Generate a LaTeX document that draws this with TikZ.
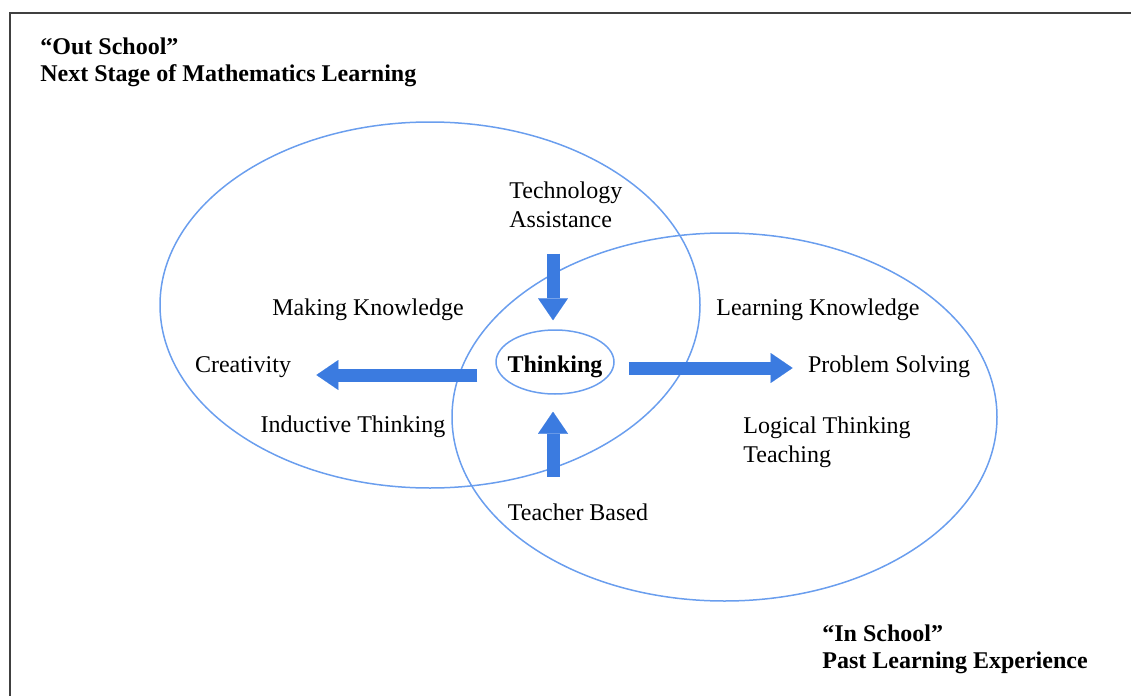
\documentclass[tikz,border=0pt]{standalone}
\usepackage{fontspec}
\setmainfont{Liberation Serif}
\usetikzlibrary{arrows.meta,shapes.geometric}
\definecolor{ringblue}{HTML}{6A9EEE}
\definecolor{arrowblue}{HTML}{3B7BE0}

\begin{document}
\begin{tikzpicture}[x=0.5pt,y=-0.5pt,font=\fontsize{12}{14.5}\selectfont,
  ring/.style={ellipse,draw=ringblue,line width=0.75pt,inner sep=0pt},
  lbl/.style={inner sep=0pt,align=left},
  blockarrow/.style={draw=arrowblue,line width=6.5pt,-{Triangle[width=15pt,length=11pt,line width=0.01pt]}}]
\useasboundingbox (0,0) rectangle (1131,696);
\path [draw,line width=1.2pt,draw=black!75] (10,760) -- (10,13) -- (1200,13);
% the two regions and the centre
\node (outschool) at (430,305)   [ring,minimum width=270pt,minimum height=183pt] {};
\node (inschool)  at (724.5,417) [ring,minimum width=272.5pt,minimum height=184pt] {};
\node (think)     at (555,362)   [ring,minimum width=59pt,minimum height=32pt] {\makebox[0pt]{\raisebox{-5pt}[0pt][0pt]{\textbf{Thinking}}}};
% captions
\node (outtitle) at (40,37)  [lbl,anchor=north west,font=\fontsize{12}{13.5}\selectfont\bfseries] {``Out School''\\Next Stage of Mathematics Learning};
\node (intitle)  at (822,624) [lbl,anchor=north west,font=\fontsize{12}{13.5}\selectfont\bfseries] {``In School''\\Past Learning Experience};
% labels
\node (tech)    at (509,181) [lbl,anchor=north west] {Technology\\Assistance};
\node (making)  at (368,315) [lbl,anchor=base] {Making Knowledge};
\node (creat)   at (243,372) [lbl,anchor=base] {Creativity};
\node (induct)  at (353,432) [lbl,anchor=base] {Inductive Thinking};
\node (learn)   at (818,315) [lbl,anchor=base] {Learning Knowledge};
\node (solve)   at (889,372) [lbl,anchor=base] {Problem Solving};
\node (logic)   at (743,416) [lbl,anchor=north west] {Logical Thinking\\Teaching};
\node (teacher) at (578,520) [lbl,anchor=base] {Teacher Based};
% block arrows
\draw [blockarrow,shorten <=13pt,shorten >=4.5pt] ([xshift=-1pt]think |- tech.south) -- ([xshift=-1pt]think.north);
\draw [blockarrow,shorten <=13pt,shorten >=8.5pt] ([xshift=-1pt]think |- teacher.north) -- ([xshift=-1pt]think.south);
\draw [blockarrow,shorten <=9pt,shorten >=12.5pt] (think.west |- 0,375) -- (creat.east |- 0,375);
\draw [blockarrow,shorten <=7pt,shorten >=7.5pt] (think.east |- 0,368) -- (solve.west |- 0,368);
\end{tikzpicture}
\end{document}
